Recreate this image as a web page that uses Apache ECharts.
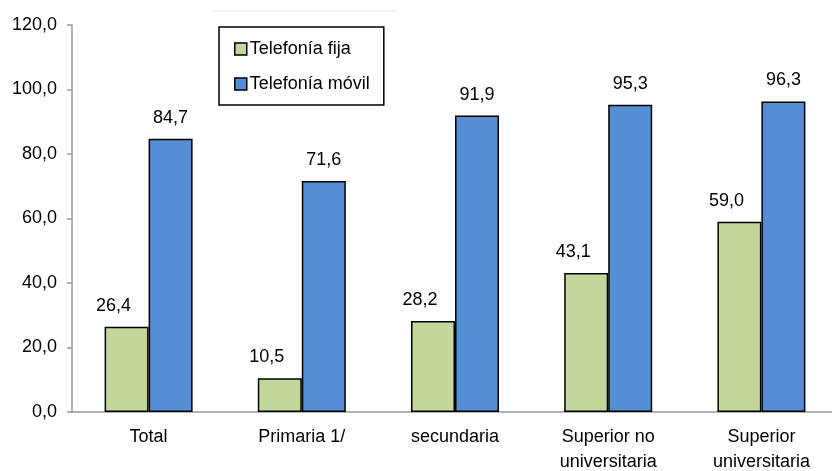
<!DOCTYPE html>
<html>
<head>
<meta charset="utf-8">
<script src="https://cdn.jsdelivr.net/npm/echarts@6/dist/echarts.min.js"></script>
<style>
  html, body { margin: 0; padding: 0; background: #fff; }
  #chart { width: 832px; height: 471px; }
</style>
</head>
<body>
<div id="chart"></div>
<script>
const categories = ['Total', 'Primaria 1/', 'secundaria', 'Superior no\nuniversitaria', 'Superior\nuniversitaria'];
const fija = [26.4, 10.5, 28.2, 43.1, 59.0];
const movil = [84.7, 71.6, 91.9, 95.3, 96.3];
const seriesNames = ['Telefonía fija', 'Telefonía móvil'];

const fmt = (v) => v.toFixed(1).replace('.', ',');
const font = 'Liberation Sans, Arial, sans-serif';

const chart = echarts.init(document.getElementById('chart'));

const labelStyle = {
  show: true,
  position: 'top',
  distance: 12,
  color: '#000',
  fontSize: 18,
  fontFamily: font,
  formatter: (p) => fmt(p.value),
};

chart.setOption({
  backgroundColor: '#fff',
  animation: false,
  textStyle: { fontFamily: font },
  graphic: [{
    type: 'line',
    shape: { x1: 213, y1: 11, x2: 396, y2: 11 },
    style: { stroke: '#dbe5f1', lineWidth: 1 },
  }],
  legend: {
    orient: 'vertical',
    left: 219,
    top: 27,
    padding: [13, 14, 12, 15],
    itemGap: 17,
    itemWidth: 12,
    itemHeight: 12,
    icon: 'rect',
    borderColor: '#000',
    borderWidth: 1.5,
    backgroundColor: '#fff',
    itemStyle: { borderColor: '#000', borderWidth: 1.5 },
    textStyle: { color: '#000', fontSize: 18, fontFamily: font, padding: [0, 0, 0, -2] },
    data: seriesNames,
  },
  grid: {
    left: 72,
    right: -6,
    top: 25,
    bottom: 59,
    outerBoundsMode: 'none',
  },
  xAxis: {
    type: 'category',
    data: categories,
    axisLine: { lineStyle: { color: '#9a9a9a', width: 1.5 } },
    axisTick: { show: false },
    axisLabel: {
      color: '#000',
      fontSize: 18,
      fontFamily: font,
      margin: 13,
      lineHeight: 25,
      interval: 0,
    },
  },
  yAxis: {
    type: 'value',
    min: 0,
    max: 120,
    interval: 20,
    axisLine: { show: true, lineStyle: { color: '#9a9a9a', width: 1.5 } },
    axisTick: { show: true, length: 5, lineStyle: { color: '#9a9a9a', width: 1.5 } },
    splitLine: { show: false },
    axisLabel: {
      color: '#000',
      fontSize: 18,
      fontFamily: font,
      margin: 15,
      formatter: (v) => fmt(v),
    },
  },
  series: [
    {
      name: seriesNames[0],
      type: 'bar',
      data: fija,
      barWidth: 44,
      barGap: '0%',
      itemStyle: { color: '#c3d69b', borderColor: '#000', borderWidth: 1.5 },
      label: { ...labelStyle, offset: [-13, 0] },
    },
    {
      name: seriesNames[1],
      type: 'bar',
      data: movil,
      barWidth: 44,
      itemStyle: { color: '#558ed5', borderColor: '#000', borderWidth: 1.5 },
      label: { ...labelStyle },
    },
  ],
});
</script>
</body>
</html>
